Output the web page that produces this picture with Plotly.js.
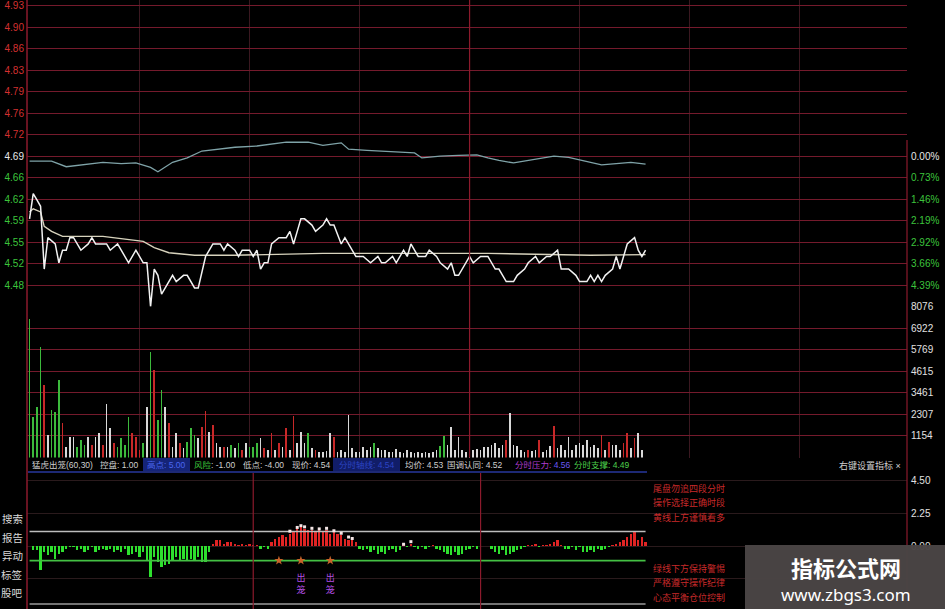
<!DOCTYPE html>
<html>
<head>
<meta charset="utf-8">
<script src="https://cdn.plot.ly/plotly-3.0.1.min.js"></script>
<style>
html,body{margin:0;padding:0;background:#000;}
#chart{width:945px;height:609px;}
</style>
</head>
<body>
<div id="chart"></div>
<script>
// ---------------- DATA ----------------
const prevClose = 4.69;
const priceTickText = ['4.93','4.90','4.86','4.83','4.79','4.76','4.72','4.69','4.66','4.62','4.59','4.55','4.52','4.48'];
const pctTickText = ['0.00%','0.73%','1.46%','2.19%','2.92%','3.66%','4.39%'];
const volTickText = ['8076','6922','5769','4615','3461','2307','1154'];
const indTickText = ['4.50','2.25','0.00'];

// price line (minute, price)
const priceTime = [0,1,2,3,4,5,7,8,9,10,11,12,14,16,17,18,20,21,22,24,27,29,31,32,33,34,35,36,37,39,40,42,43,45,46,48,50,52,53,54,56,57,58,60,61,62,63,64,65,66,68,70,71,72,73,74,75,77,78,80,81,82,83,85,86,89,91,93,95,96,97,99,100,102,103,104,106,108,109,111,112,114,115,116,117,120,121,123,125,127,128,129,130,132,133,135,136,138,139,141,142,144,145,147,149,150,152,153,154,155,156,157,159,160,161,162,163,165,166,167,168];
const priceVal  = [4.59,4.63,4.62,4.61,4.51,4.56,4.55,4.52,4.54,4.54,4.56,4.56,4.54,4.55,4.56,4.55,4.55,4.55,4.54,4.55,4.52,4.54,4.52,4.52,4.45,4.51,4.50,4.47,4.48,4.50,4.49,4.50,4.50,4.48,4.48,4.53,4.55,4.55,4.54,4.55,4.54,4.53,4.54,4.54,4.53,4.54,4.51,4.52,4.52,4.55,4.56,4.56,4.57,4.55,4.57,4.59,4.59,4.58,4.57,4.58,4.59,4.58,4.58,4.55,4.56,4.53,4.53,4.52,4.53,4.52,4.52,4.53,4.52,4.54,4.53,4.55,4.53,4.53,4.54,4.53,4.52,4.51,4.52,4.50,4.50,4.53,4.52,4.53,4.53,4.51,4.51,4.50,4.49,4.49,4.50,4.51,4.52,4.53,4.52,4.53,4.53,4.54,4.51,4.51,4.50,4.49,4.49,4.50,4.49,4.50,4.49,4.50,4.51,4.53,4.51,4.53,4.55,4.56,4.54,4.53,4.54];

// average price line
const avgTime = [0,1,3,4,6,9,20,31,34,38,45,56,80,125,153,168];
const avgVal  = [4.601,4.606,4.601,4.578,4.570,4.562,4.562,4.554,4.544,4.536,4.532,4.532,4.535,4.535,4.532,4.533];

// index overlay (teal), expressed on the price scale
const indexTime = [0,6,10,15,20,25,29,33,35,39,43,47,52,56,62,66,70,76,80,85,87,92,95,100,105,107,112,117,122,125,128,132,138,143,147,150,153,156,160,164,168];
const indexVal  = [4.682,4.682,4.673,4.677,4.680,4.678,4.679,4.672,4.665,4.680,4.687,4.698,4.701,4.704,4.706,4.709,4.712,4.712,4.707,4.711,4.701,4.699,4.698,4.697,4.695,4.687,4.690,4.691,4.692,4.687,4.683,4.679,4.685,4.690,4.688,4.684,4.680,4.676,4.678,4.680,4.677];

// minute volume (one bar per minute from 0) and bar colour code: r up, g down, w flat
const volVal = [7434,2174,2710,5930,3890,1207,2550,2440,4160,1850,560,1100,1100,560,940,670,1100,670,1100,1310,
 670,2870,1580,780,560,1050,670,2170,1310,1100,400,780,2710,5660,4700,2010,3620,2710,1850,560,
 1310,780,500,830,1580,1200,1050,1640,2500,1370,1740,780,560,560,560,670,500,780,400,780,
 560,560,780,1050,500,400,1310,400,780,560,1580,400,2230,780,1370,780,1310,500,400,300,
 290,350,1310,1100,300,400,290,2280,500,300,290,560,400,560,780,500,400,400,290,290,
 450,290,220,400,290,220,290,250,290,220,290,400,620,1150,670,1640,400,1100,400,290,
 500,400,450,400,560,560,670,780,500,670,940,2390,670,620,400,290,400,350,400,940,
 290,400,620,1690,500,670,400,1100,400,670,780,670,940,560,670,500,1200,400,830,670,
 670,400,780,1310,500,1050,1310,400];
const volColor = ['g','g','g','g','r','w','g','g','g','r','w','w','w','g','g','g','w','r','w','w',
 'r','w','w','r','g','g','g','g','r','r','r','g','w','g','r','g','g','w','r','w',
 'w','r','w','g','g','g','w','r','r','w','r','w','w','r','w','g','w','g','r','w',
 'g','g','g','w','r','w','r','w','r','w','r','w','r','w','w','w','g','w','r','w',
 'w','w','w','r','w','w','w','w','w','w','w','w','w','w','g','w','w','w','w','w',
 'w','w','w','w','w','w','w','w','w','w','w','w','g','g','w','w','w','w','w','w',
 'w','w','w','w','w','w','w','w','w','w','r','w','w','w','w','w','r','w','w','r',
 'w','w','w','r','w','w','w','w','w','w','w','w','w','w','w','w','r','w','r','w',
 'w','w','r','r','w','r','w','w'];

// indicator "猛虎出笼" histogram (one value per minute from 0)
const indVal = [0,-0.30,-0.30,-1.68,-0.41,-0.64,-0.41,-0.87,-0.53,-0.41,-0.18,-0.07,-0.07,-0.30,-0.18,-0.41,-0.30,-0.07,-0.41,-0.30,
 -0.18,-0.30,-0.18,-0.41,-0.30,-0.41,-0.18,-0.64,-0.53,-0.41,-0.76,-0.41,-0.99,-2.14,-0.76,-1.10,-1.45,-1.33,-1.22,-0.99,
 -0.76,-0.99,-0.87,-0.99,-0.87,-0.99,-0.76,-1.10,-1.10,-0.41,0.16,0.39,0.39,0.16,0.28,0.28,0.16,0.05,0.16,0.05,
 0.16,0.05,0.05,-0.18,-0.07,-0.18,0.28,0.51,0.62,0.74,0.62,0.85,0.97,1.20,1.31,1.20,1.08,1.08,0.97,1.08,
 0.97,1.08,0.85,0.97,0.85,0.74,0.51,0.39,0.51,0.28,-0.18,-0.30,-0.18,-0.41,-0.30,-0.53,-0.41,-0.53,-0.30,-0.18,
 -0.41,-0.30,0.05,-0.07,0.16,-0.07,-0.18,-0.07,-0.18,-0.07,0.05,-0.18,-0.30,-0.41,-0.53,-0.64,-0.41,-0.64,-0.53,-0.30,
 -0.18,-0.07,-0.18,0,0,0,-0.18,-0.41,-0.53,-0.30,-0.64,-0.53,-0.41,-0.30,-0.18,-0.05,0.05,0.05,0.16,-0.07,
 0.05,0.05,0.16,0.28,0.39,0.05,-0.18,-0.18,-0.07,-0.30,-0.07,-0.41,-0.41,-0.30,-0.41,-0.18,-0.30,-0.18,-0.07,0.05,
 0.16,0.28,0.39,0.62,0.85,0.97,0.41,0.62,0.28];
// white dot line over the histogram
const dotTime = [71,73,74,75,77,79,81,83,85,87,88,102,104];
const dotVal  = [1.02,1.28,1.40,1.32,1.22,1.18,1.22,1.05,0.88,0.62,0.52,0.12,0.30];
// signals
const signalTime = [74,82];
const signalText = ['出<br>笼','出<br>笼'];
const markTime = [68,74,82];

// indicator parameters (header)
const ctrlLine = 1.00;   // 控盘
const highPt = 5.00;     // 高点
const riskLine = -1.00;  // 风险
const lowLine = -4.00;   // 低点
const lastTime = 168;

// ---------------- LAYOUT HELPERS ----------------
const W = 945, H = 609;
const px = x => x / W;
const py = y => 1 - y / H;
const xL = 27, xR = 907;
const step = prevClose * 0.0073;
const priceTickVals = priceTickText.map((t,i) => prevClose + (7 - i) * step);
const pctTickVals = pctTickText.map((t,i) => prevClose - i * step);
const volTickVals = volTickText.map(Number);
const indTickVals = [4.5, 2.25, 0, -2.25];
const xRange = [-0.7, 239.3];

const upC = '#d43030', dnC = '#3cc43c';
const priceTickColored = priceTickText.map(t => {
  const v = parseFloat(t);
  const c = v > prevClose + 0.001 ? upC : (v < prevClose - 0.001 ? dnC : '#e8e8e8');
  return '<span style="color:' + c + '">' + t + '</span>';
});
const pctTickColored = pctTickText.map((t,i) => '<span style="color:' + (i === 0 ? '#e8e8e8' : dnC) + '">' + t + '</span>');
const colorMap = {r:'#c82828', g:'#3cba3c', w:'#d8d8d8'};
const volTime = volVal.map((v,i) => i);
const indTime = indVal.map((v,i) => i);

const gridRed = '#741a2c';
const gridDim = '#3a1820';
const brightRed = '#8c1a2c';

const traces = [
  {x: indexTime, y: indexVal, xaxis:'x', yaxis:'y', mode:'lines', line:{color:'#7fa3a8', width:1.3}, hoverinfo:'skip'},
  {x: avgTime, y: avgVal, xaxis:'x', yaxis:'y', mode:'lines', line:{color:'#d8d3bd', width:1.4}, hoverinfo:'skip'},
  {x: priceTime, y: priceVal, xaxis:'x', yaxis:'y', mode:'lines', line:{color:'#f2f2f2', width:1.5}, hoverinfo:'skip'},
  {x: [0], y: [prevClose], xaxis:'x', yaxis:'y4', mode:'markers', marker:{opacity:0}, hoverinfo:'skip'},
  {type:'bar', x: volTime, y: volVal, xaxis:'x', yaxis:'y2', width:0.5,
   marker:{color: volColor.map(c => colorMap[c]), line:{width:0}}, hoverinfo:'skip'},
  {type:'bar', x: indTime, y: indVal, xaxis:'x2', yaxis:'y3', width:0.62,
   marker:{color: indVal.map(v => v >= 0 ? '#e02424' : '#2ee02e'), line:{width:0}}, hoverinfo:'skip'},
  {x:[0,lastTime], y:[ctrlLine,ctrlLine], xaxis:'x2', yaxis:'y3', mode:'lines', line:{color:'#bdbdbd', width:1.5}, hoverinfo:'skip'},
  {x:[0,lastTime], y:[riskLine,riskLine], xaxis:'x2', yaxis:'y3', mode:'lines', line:{color:'#44c044', width:1.8}, hoverinfo:'skip'},
  {x:[0,lastTime], y:[lowLine,lowLine], xaxis:'x2', yaxis:'y3', mode:'lines', line:{color:'#9a9a9a', width:1.5}, hoverinfo:'skip'},
  {x: dotTime, y: dotVal, xaxis:'x2', yaxis:'y3', mode:'markers', marker:{color:'#f4e6e6', size:3, symbol:'square'}, hoverinfo:'skip'},
  {x: markTime, y: markTime.map(() => riskLine), xaxis:'x2', yaxis:'y3', mode:'markers', marker:{color:'#c8642a', size:7, symbol:'star'}, hoverinfo:'skip'},
  {x: signalTime, y: signalTime.map(() => -2.65), xaxis:'x2', yaxis:'y3', mode:'text', text: signalText,
   textfont:{color:'#b24ee0', size:9, family:'Noto Sans CJK SC'}, hoverinfo:'skip'}
];

const tickFont = {family:'Liberation Sans, Arial', size:10, color:'#e0e0e0'};
const layout = {
  width: W, height: H,
  margin:{l:0,r:0,t:0,b:0},
  paper_bgcolor:'#000', plot_bgcolor:'#000',
  showlegend:false, bargap:0,
  xaxis:{domain:[px(xL), px(xR)], range:xRange, anchor:'y', tickvals:[30,60,90,120,150,180,210],
         showticklabels:false, ticks:'', showgrid:true, gridcolor:gridDim, gridwidth:1, zeroline:false, showline:false},
  xaxis2:{domain:[px(xL), px(xR)], range:xRange, anchor:'y3', showticklabels:false, ticks:'', showgrid:false, zeroline:false, showline:false},
  yaxis:{domain:[py(306.5), 1], range:[prevClose - 7*step, prevClose + 7.26*step], anchor:'x', side:'left',
         tickvals: priceTickVals, ticktext: priceTickColored, tickfont: tickFont, ticks:'', ticklabelstandoff:2,
         showgrid:true, gridcolor:gridRed, gridwidth:1, zeroline:false, showline:false},
  yaxis4:{overlaying:'y', side:'right', anchor:'x', range:[prevClose - 7*step, prevClose + 7.26*step],
         tickvals: pctTickVals, ticktext: pctTickColored, tickfont: tickFont, ticks:'', ticklabelstandoff:3,
         showgrid:false, zeroline:false, showline:false},
  yaxis2:{domain:[py(457.5), py(306.5)], range:[0, volTickVals[0]], anchor:'x', side:'right',
         tickvals: volTickVals, ticktext: volTickText, tickfont: tickFont, ticks:'', ticklabelstandoff:3,
         showgrid:true, gridcolor:gridRed, gridwidth:1, zeroline:false, showline:false},
  yaxis3:{domain:[0, py(472)], range:[-4.34, 5.10], anchor:'x2', side:'right',
         tickvals: indTickVals, ticktext: indTickText.concat(['']), tickfont: tickFont, ticks:'', ticklabelstandoff:3,
         showgrid:true, gridcolor:'#2a1a1c', gridwidth:1, zeroline:false, showline:false},
  shapes:[
    {type:'rect', xref:'paper', yref:'paper', x0:px(305), x1:px(638), y0:py(318), y1:py(276), fillcolor:'#000', line:{width:0}, layer:'between'},
    {type:'rect', xref:'paper', yref:'paper', x0:px(535), x1:1, y0:py(140), y1:1, fillcolor:'#000', line:{width:0}, layer:'between'},
    {type:'line', xref:'paper', yref:'paper', x0:px(xL), x1:px(xL), y0:0, y1:1, line:{color:brightRed, width:1.5}},
    {type:'line', xref:'paper', yref:'paper', x0:px(xR), x1:px(xR), y0:0, y1:py(140), line:{color:brightRed, width:1.2}},
    {type:'line', xref:'x', yref:'paper', x0:120, x1:120, y0:py(457.5), y1:1, line:{color:brightRed, width:1.2}},
    {type:'line', xref:'x2', yref:'paper', x0:61, x1:61, y0:0, y1:py(473), line:{color:brightRed, width:1.2}},
    {type:'line', xref:'x2', yref:'paper', x0:123, x1:123, y0:0, y1:py(473), line:{color:brightRed, width:1.2}},
    {type:'line', xref:'paper', yref:'paper', x0:px(28), x1:px(647), y0:py(472), y1:py(472), line:{color:'#27379c', width:1.5}},
    {type:'rect', xref:'paper', yref:'paper', x0:px(143), x1:px(190), y0:py(471), y1:py(458), fillcolor:'#152478', line:{width:0}},
    {type:'rect', xref:'paper', yref:'paper', x0:px(333), x1:px(400), y0:py(471), y1:py(458), fillcolor:'#111d68', line:{width:0}},
    {type:'rect', xref:'paper', yref:'paper', x0:px(745), x1:1, y0:0, y1:py(545), fillcolor:'#4a4545', opacity:0.97, line:{width:0}, layer:'above'}
  ],
  annotations:[]
};

const ann = layout.annotations;
const mixFont = 'Liberation Sans, Noto Sans CJK SC';
function addText(x, y, text, color, size, anchor, family, extra) {
  ann.push(Object.assign({xref:'paper', yref:'paper', x:px(x), y:py(y), text:text, showarrow:false,
    xanchor:anchor || 'left', yanchor:'middle',
    font:{family: family || mixFont, size:size, color:color}}, extra || {}));
}
const hy = 465;
const grey = '#cfcfcf';
const hs = 8.5;
addText(30, hy, '猛虎出笼(60,30)', grey, hs);
addText(98, hy, '控盘: 1.00', grey, hs);
addText(145, hy, '高点: 5.00', '#4a66f0', hs);
addText(192, hy, '<span style="color:#3cc43c">风险</span>: -1.00', grey, hs);
addText(241, hy, '低点: -4.00', grey, hs);
addText(290, hy, '现价: 4.54', grey, hs);
addText(337, hy, '分时轴线: 4.54', '#2c44c4', hs);
addText(403, hy, '均价: 4.53', grey, hs);
addText(445, hy, '国调认同: 4.52', grey, hs);
addText(513, hy, '<span style="color:#b03cd0">分时压力: </span><span style="color:#6a58f0">4.56</span>', grey, hs);
addText(572, hy, '分时支撑: 4.49', '#4cd04c', hs);
addText(903, hy, '右键设置指标 ×', '#d0d0d0', 9, 'right');

const noteColor = '#c82a2a';
const notesTop = ['尾盘勿追四段分时','操作选择正确时段','黄线上方谨慎看多'];
const notesBottom = ['绿线下方保持警惕','严格遵守操作纪律','心态平衡仓位控制'];
notesTop.forEach((t,i) => addText(651, 488 + i*14.5, t, noteColor, 9));
notesBottom.forEach((t,i) => addText(651, 568 + i*14.5, t, noteColor, 9));

const sideLabels = ['搜索','报告','异动','标签','股吧'];
sideLabels.forEach((t,i) => addText(25, 519 + i*18.6, t, '#d8d8d8', 10.5, 'right'));

addText(846, 567, '<b>指标公式网</b>', '#ffffff', 22, 'center', 'Noto Sans CJK SC');
addText(846, 594, 'www.zbgs3.com', '#ffffff', 17, 'center', 'Noto Sans, DejaVu Sans');

Plotly.newPlot('chart', traces, layout, {staticPlot:true, displayModeBar:false});
</script>
</body>
</html>
